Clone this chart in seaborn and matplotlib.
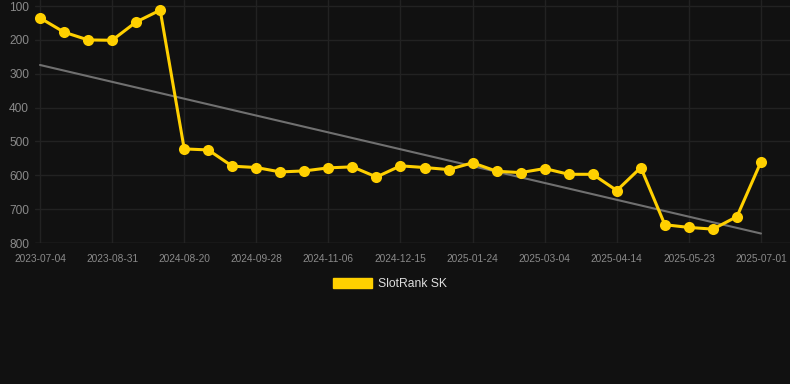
import matplotlib
matplotlib.use("Agg")
import matplotlib.pyplot as plt
from matplotlib.patches import Patch
import seaborn as sns
import pandas as pd

dates = ["2023-07-04", "", "", "2023-08-31", "", "", "2024-08-20", "", "", "2024-09-28", "", "",
         "2024-11-06", "", "", "2024-12-15", "", "", "2025-01-24", "", "", "2025-03-04", "", "",
         "2025-04-14", "", "", "2025-05-23", "", "", "2025-07-01"]
ranks = [135, 177, 200, 201, 147, 112, 522, 525, 573, 577, 590, 587, 578, 575, 605, 572,
         577, 583, 563, 588, 592, 580, 597, 597, 645, 577, 746, 754, 759, 722, 560]
trend_ends = [274, 772]
series_name = "SlotRank SK"

bg = "#111111"
sns.set_style("dark", {"axes.facecolor": bg, "figure.facecolor": bg})
plt.rcParams["font.family"] = ["Liberation Sans", "DejaVu Sans"]

fig = plt.figure(figsize=(7.9, 3.84), dpi=100)
ax = fig.add_axes([35 / 790, (384 - 243) / 384, (790 - 35) / 790, 243 / 384])
ax.set_facecolor(bg)

idx = list(range(len(ranks)))
df = pd.DataFrame({"i": idx, "rank": ranks})
tdf = pd.DataFrame({"i": [0, len(ranks) - 1], "rank": trend_ends})

sns.lineplot(data=tdf, x="i", y="rank", ax=ax, color="#707070", linewidth=1.5, zorder=2)
sns.lineplot(data=df, x="i", y="rank", ax=ax, color="#FFD000", linewidth=2.2,
             marker="o", markersize=8, markeredgewidth=0, zorder=3, clip_on=False)

ax.set_xlim(-5 / 24.03, 30 + 29 / 24.03)
ax.set_ylim(800, 82)
ax.set_yticks([100, 200, 300, 400, 500, 600, 700, 800])
tick_pos = [i for i, d in enumerate(dates) if d]
ax.set_xticks(tick_pos)
ax.set_xticklabels([dates[i] for i in tick_pos])
ax.set_xlabel("")
ax.set_ylabel("")
ax.grid(True, color="#222222", linewidth=1)
for s in ax.spines.values():
    s.set_visible(False)
ax.axhline(800, color="#2c2c2c", linewidth=1, zorder=1)
ax.tick_params(axis="y", colors="#8a8a8a", labelsize=8.6, length=0, pad=4.3)
ax.tick_params(axis="x", colors="#8a8a8a", labelsize=7.3, length=0, pad=8)

handle = Patch(facecolor="#FFD000", edgecolor="#FFD000")
fig.legend([handle], [series_name], loc="center", bbox_to_anchor=(390 / 790, 1 - 284 / 384),
           frameon=False, handlelength=3.2, handleheight=0.9, handletextpad=0.5,
           labelcolor="#dddddd", fontsize=8.7)

fig.savefig("out.png", dpi=100, facecolor=bg)
